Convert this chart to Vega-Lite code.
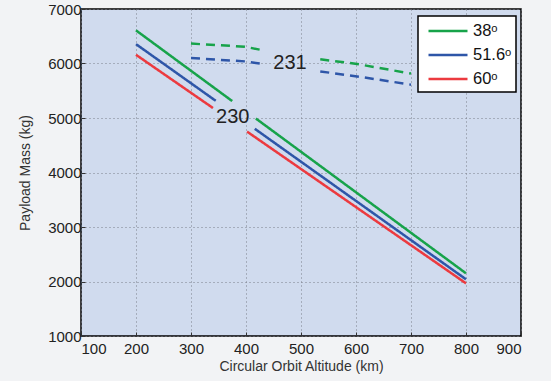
{
  "$schema": "https://vega.github.io/schema/vega-lite/v6.json",
  "width": 440,
  "height": 327,
  "autosize": "none",
  "padding": {"left": 81, "top": 9, "right": 30, "bottom": 45},
  "background": "#f2f3f5",
  "config": {
    "view": {"fill": "#d0dbee", "stroke": "#000000", "strokeWidth": 1.5},
    "font": "Liberation Sans",
    "legend": {"strokeWidth": 1.5},
    "axis": {
      "labelFont": "Liberation Sans",
      "titleFont": "Liberation Sans",
      "labelFontSize": 15,
      "titleFontSize": 14,
      "titleFontWeight": "normal",
      "labelColor": "#222222",
      "titleColor": "#333333",
      "domain": false,
      "tickColor": "#333333",
      "tickSize": -4,
      "gridColor": "#7a7f8a",
      "gridDash": [1, 3],
      "gridWidth": 1,
      "gridOpacity": 1
    }
  },
  "datasets": {
    "curves": [
      {"inc": "38ᵒ", "seg": "38a", "style": "230", "x": 200, "y": 6608},
      {"inc": "38ᵒ", "seg": "38a", "style": "230", "x": 375, "y": 5310},
      {"inc": "38ᵒ", "seg": "38b", "style": "230", "x": 418, "y": 4990},
      {"inc": "38ᵒ", "seg": "38b", "style": "230", "x": 800, "y": 2150},
      {"inc": "51.6ᵒ", "seg": "51a", "style": "230", "x": 200, "y": 6355},
      {"inc": "51.6ᵒ", "seg": "51a", "style": "230", "x": 345, "y": 5315},
      {"inc": "51.6ᵒ", "seg": "51b", "style": "230", "x": 416, "y": 4802},
      {"inc": "51.6ᵒ", "seg": "51b", "style": "230", "x": 800, "y": 2040},
      {"inc": "60ᵒ", "seg": "60a", "style": "230", "x": 200, "y": 6160},
      {"inc": "60ᵒ", "seg": "60a", "style": "230", "x": 340, "y": 5183},
      {"inc": "60ᵒ", "seg": "60b", "style": "230", "x": 402, "y": 4750},
      {"inc": "60ᵒ", "seg": "60b", "style": "230", "x": 800, "y": 1966},
      {"inc": "38ᵒ", "seg": "38c", "style": "231", "x": 300, "y": 6365},
      {"inc": "38ᵒ", "seg": "38c", "style": "231", "x": 398, "y": 6308},
      {"inc": "38ᵒ", "seg": "38c", "style": "231", "x": 431, "y": 6242},
      {"inc": "38ᵒ", "seg": "38d", "style": "231", "x": 535, "y": 6077},
      {"inc": "38ᵒ", "seg": "38d", "style": "231", "x": 602, "y": 5991},
      {"inc": "38ᵒ", "seg": "38d", "style": "231", "x": 700, "y": 5815},
      {"inc": "51.6ᵒ", "seg": "51c", "style": "231", "x": 300, "y": 6100},
      {"inc": "51.6ᵒ", "seg": "51c", "style": "231", "x": 398, "y": 6039},
      {"inc": "51.6ᵒ", "seg": "51c", "style": "231", "x": 431, "y": 5991},
      {"inc": "51.6ᵒ", "seg": "51d", "style": "231", "x": 535, "y": 5855},
      {"inc": "51.6ᵒ", "seg": "51d", "style": "231", "x": 602, "y": 5763},
      {"inc": "51.6ᵒ", "seg": "51d", "style": "231", "x": 700, "y": 5612}
    ],
    "labels": [
      {"x": 376, "y": 5024, "text": "230"},
      {"x": 480, "y": 6007, "text": "231"}
    ]
  },
  "layer": [
    {
      "data": {"name": "curves"},
      "mark": {"type": "line", "strokeWidth": 2.5, "clip": true},
      "encoding": {
        "x": {
          "field": "x", "type": "quantitative",
          "scale": {"domain": [100, 900], "nice": false},
          "axis": {"values": [100, 200, 300, 400, 500, 600, 700, 800, 900], "format": "d", "title": "Circular Orbit Altitude (km)", "grid": true, "labelPadding": 9, "titlePadding": 3}
        },
        "y": {
          "field": "y", "type": "quantitative",
          "scale": {"domain": [1000, 7000], "nice": false},
          "axis": {"values": [1000, 2000, 3000, 4000, 5000, 6000, 7000], "format": "d", "title": "Payload Mass (kg)", "grid": true, "labelPadding": 4, "titlePadding": 15}
        },
        "color": {
          "field": "inc", "type": "nominal",
          "scale": {"domain": ["38ᵒ", "51.6ᵒ", "60ᵒ"], "range": ["#17a34a", "#2e56a8", "#ec3a3f"]},
          "legend": {
            "title": null,
            "orient": "none",
            "legendX": 337,
            "legendY": 7,
            "fillColor": "#ffffff",
            "strokeColor": "#000000",
            "cornerRadius": 0,
            "padding": 4,
            "symbolType": "M-2,0H2",
            "symbolSize": 380,
            "symbolOffset": 15,
            "symbolStrokeWidth": 2.5,
            "labelFont": "Liberation Sans",
            "labelFontSize": 16.5,
            "labelOffset": 14,
            "labelColor": "#111111",
            "rowPadding": 4
          }
        },
        "strokeDash": {
          "field": "style", "type": "nominal",
          "scale": {"domain": ["230", "231"], "range": [[1, 0], [9, 6]]},
          "legend": null
        },
        "detail": {"field": "seg"}
      }
    },
    {
      "data": {"name": "labels"},
      "mark": {"type": "text", "font": "Liberation Sans", "fontSize": 20, "color": "#222222"},
      "encoding": {
        "x": {"field": "x", "type": "quantitative"},
        "y": {"field": "y", "type": "quantitative"},
        "text": {"field": "text"}
      }
    }
  ]
}
